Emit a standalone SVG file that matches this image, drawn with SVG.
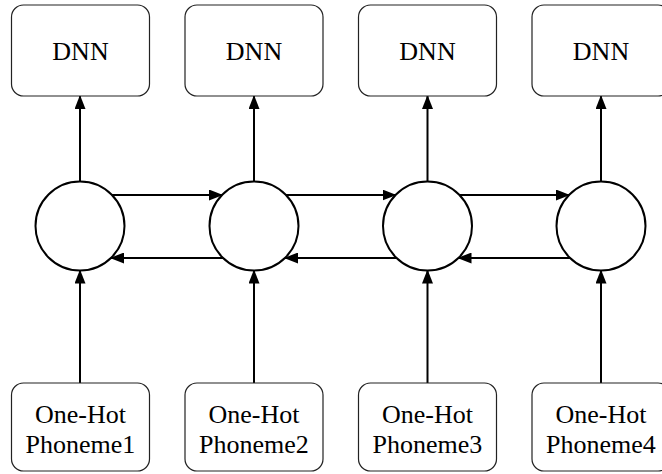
<svg xmlns="http://www.w3.org/2000/svg" width="662" height="474" viewBox="0 0 662 474">
  <style>
    .box { fill: #ffffff; stroke: #222222; stroke-width: 1.2; }
    .cell { fill: #ffffff; stroke: #000000; stroke-width: 2; }
    .label { font-family: 'Liberation Serif', 'DejaVu Serif', 'Times New Roman', serif; font-size: 26px; fill: #000000; text-anchor: middle; }
    .edge { fill: none; stroke: #000000; stroke-width: 2; marker-end: url(#arrow); }
  </style>
  <defs>
    <marker id="arrow" viewBox="0 0 14 11" refX="13" refY="5.5" markerWidth="14" markerHeight="11" markerUnits="userSpaceOnUse" orient="auto">
      <path d="M0,0 L14,5.5 L0,11 Z" fill="#000000"/>
    </marker>
  </defs>

  <rect width="662" height="474" fill="#ffffff"/>

  <!-- connectors -->
  <g id="connectors">
    <!-- cell to DNN -->
    <line class="edge" x1="80" y1="181.5" x2="80" y2="96"/>
    <line class="edge" x1="254" y1="181.5" x2="254" y2="96"/>
    <line class="edge" x1="427.5" y1="181.5" x2="427.5" y2="96"/>
    <line class="edge" x1="601" y1="181.5" x2="601" y2="96"/>
    <!-- input to cell -->
    <line class="edge" x1="80" y1="383" x2="80" y2="270.5"/>
    <line class="edge" x1="254" y1="383" x2="254" y2="270.5"/>
    <line class="edge" x1="427.5" y1="383" x2="427.5" y2="270.5"/>
    <line class="edge" x1="601" y1="383" x2="601" y2="270.5"/>
    <!-- forward recurrence -->
    <line class="edge" x1="112" y1="195" x2="222" y2="195"/>
    <line class="edge" x1="286" y1="195" x2="395.5" y2="195"/>
    <line class="edge" x1="459.5" y1="195" x2="569" y2="195"/>
    <!-- backward recurrence -->
    <line class="edge" x1="223" y1="258" x2="111" y2="258"/>
    <line class="edge" x1="396.5" y1="258" x2="285" y2="258"/>
    <line class="edge" x1="570" y1="258" x2="458.5" y2="258"/>
  </g>

  <!-- output nodes -->
  <g id="dnn1"><rect class="box" x="11.5" y="5" width="138" height="91" rx="12"/><text class="label" font-family="Liberation Serif, serif" x="80.5" y="60">DNN</text></g>
  <g id="dnn2"><rect class="box" x="185" y="5" width="138" height="91" rx="12"/><text class="label" font-family="Liberation Serif, serif" x="254" y="60">DNN</text></g>
  <g id="dnn3"><rect class="box" x="358.5" y="5" width="138" height="91" rx="12"/><text class="label" font-family="Liberation Serif, serif" x="427.5" y="60">DNN</text></g>
  <g id="dnn4"><rect class="box" x="532" y="5" width="138" height="91" rx="12"/><text class="label" font-family="Liberation Serif, serif" x="601" y="60">DNN</text></g>

  <!-- recurrent cells -->
  <g id="cell1"><circle class="cell" cx="80" cy="226" r="44.5"/></g>
  <g id="cell2"><circle class="cell" cx="254" cy="226" r="44.5"/></g>
  <g id="cell3"><circle class="cell" cx="427.5" cy="226" r="44.5"/></g>
  <g id="cell4"><circle class="cell" cx="601" cy="226" r="44.5"/></g>

  <!-- input nodes -->
  <g id="input1"><rect class="box" x="11.5" y="383" width="138" height="88" rx="12"/><text class="label" font-family="Liberation Serif, serif" x="80.5" y="423">One-Hot</text><text class="label" font-family="Liberation Serif, serif" x="80.5" y="453">Phoneme1</text></g>
  <g id="input2"><rect class="box" x="185" y="383" width="138" height="88" rx="12"/><text class="label" font-family="Liberation Serif, serif" x="254" y="423">One-Hot</text><text class="label" font-family="Liberation Serif, serif" x="254" y="453">Phoneme2</text></g>
  <g id="input3"><rect class="box" x="358.5" y="383" width="138" height="88" rx="12"/><text class="label" font-family="Liberation Serif, serif" x="427.5" y="423">One-Hot</text><text class="label" font-family="Liberation Serif, serif" x="427.5" y="453">Phoneme3</text></g>
  <g id="input4"><rect class="box" x="532" y="383" width="138" height="88" rx="12"/><text class="label" font-family="Liberation Serif, serif" x="601" y="423">One-Hot</text><text class="label" font-family="Liberation Serif, serif" x="601" y="453">Phoneme4</text></g>
</svg>
